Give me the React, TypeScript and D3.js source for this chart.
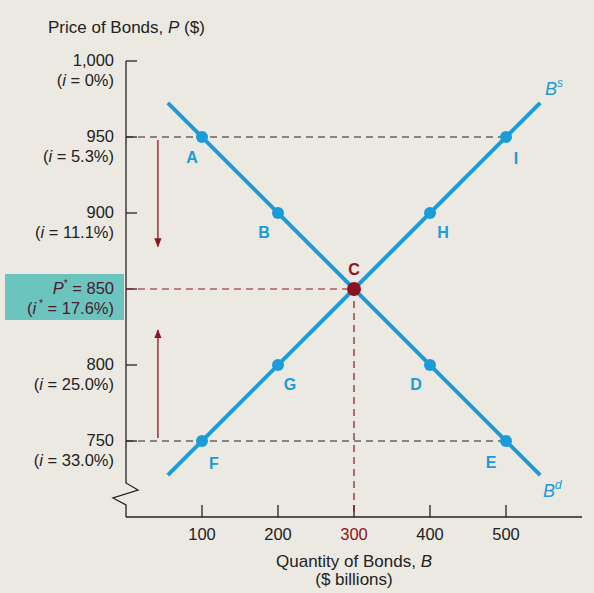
import React from "react";
import * as d3 from "d3";

const quantities = [100, 200, 300, 400, 500];
const priceTicks = [1000, 950, 900, 850, 800, 750];
const priceLabels = ["1,000", "950", "900", "P* = 850", "800", "750"];
const rateLabels = ["0%", "5.3%", "11.1%", "17.6%", "25.0%", "33.0%"];

const demandPoints = [
  { name: "A", q: 100, p: 950 },
  { name: "B", q: 200, p: 900 },
  { name: "C", q: 300, p: 850 },
  { name: "D", q: 400, p: 800 },
  { name: "E", q: 500, p: 750 },
];
const supplyPoints = [
  { name: "F", q: 100, p: 750 },
  { name: "G", q: 200, p: 800 },
  { name: "H", q: 400, p: 900 },
  { name: "I", q: 500, p: 950 },
];
const demandLine = [
  { q: 55, p: 972.5 },
  { q: 545, p: 727.5 },
];
const supplyLine = [
  { q: 55, p: 727.5 },
  { q: 545, p: 972.5 },
];
const arrows = [
  { q: 42, from: 948, to: 878 },
  { q: 42, from: 752, to: 823 },
];

const labelOffsets: Record<string, [number, number]> = {
  A: [-10, 26],
  B: [-14, 25],
  C: [0, -14],
  D: [-14, 25],
  E: [-15, 27],
  F: [12, 28],
  G: [12, 25],
  H: [13, 25],
  I: [10, 27],
};

const BLUE = "#1b9bd7";
const RED = "#8c1420";
const FONT = "'Liberation Sans', Arial, Helvetica, sans-serif";
const TICKFS = 16.5;

export default function App() {
  const x = d3.scaleLinear().domain([0, 600]).range([126, 582]);
  const y = d3.scaleLinear().domain([700, 1000]).range([517, 61]);
  const line = d3
    .line<{ q: number; p: number }>()
    .x((d) => x(d.q))
    .y((d) => y(d.p));

  const allPoints = [...demandPoints, ...supplyPoints];

  return (
    <svg
      width={594}
      height={593}
      style={{ position: "absolute", left: 0, top: 0, background: "#ece9e2" }}
      fontFamily={FONT}
    >
      <defs>
        <marker
          id="arr"
          viewBox="0 0 10 10"
          refX="9"
          refY="5"
          markerWidth="7"
          markerHeight="7"
          orient="auto"
        >
          <path d="M0,1 L10,5 L0,9 z" fill={RED} />
        </marker>
      </defs>
      <rect x={0} y={0} width={594} height={593} fill="#ece9e2" />

      {/* axis title */}
      <text x={48} y={33} fontSize={17} fill="#222">
        Price of Bonds, <tspan fontStyle="italic">P</tspan> ($)
      </text>

      {/* teal box */}
      <rect x={5} y={274} width={119} height={46} fill="#6cc4bf" />

      {/* y axis with break */}
      <path
        d={`M${x(0)},${y(1000)} L${x(0)},483 L138,490 L113,498 L${x(0)},505 L${x(0)},${y(700)}`}
        fill="none"
        stroke="#222"
        strokeWidth={1.3}
      />
      {priceTicks.map((p) => (
        <line key={"t" + p} x1={x(0)} x2={x(0) + 11} y1={y(p)} y2={y(p)} stroke="#222" strokeWidth={1.3} />
      ))}
      {/* x axis */}
      <line x1={x(0)} x2={x(600)} y1={y(700)} y2={y(700)} stroke="#222" strokeWidth={1.3} />
      {quantities.map((q) => (
        <g key={q}>
          <line x1={x(q)} x2={x(q)} y1={y(700)} y2={y(700) - 12} stroke="#222" strokeWidth={1.3} />
          <text
            x={x(q)}
            y={y(700) + 23}
            fontSize={TICKFS}
            textAnchor="middle"
            fill={q === 300 ? RED : "#222"}
          >
            {q}
          </text>
        </g>
      ))}

      {/* y tick labels */}
      {priceTicks.map((p, i) => {
        const star = p === 850;
        const col = star ? "#4a1a2c" : "#222";
        return (
          <g key={p}>
            <text x={114} y={y(p) + 5} fontSize={TICKFS} textAnchor="end" fill={col}>
              {star ? (
                <>
                  <tspan fontStyle="italic">P</tspan>
                  <tspan dy={-7} fontSize={10}>*</tspan>
                  <tspan dy={7}> = 850</tspan>
                </>
              ) : (
                priceLabels[i]
              )}
            </text>
            <text x={114} y={y(p) + 25} fontSize={TICKFS} textAnchor="end" fill={col}>
              (<tspan fontStyle="italic">i</tspan>
              {star ? (
                <>
                  <tspan dy={-7} fontSize={10}> *</tspan>
                  <tspan dy={7}> = {rateLabels[i]})</tspan>
                </>
              ) : (
                <> = {rateLabels[i]})</>
              )}
            </text>
          </g>
        );
      })}

      {/* dashed guides */}
      <line x1={x(0)} x2={x(500)} y1={y(950)} y2={y(950)} stroke="#222" strokeWidth={1.2} strokeDasharray="7,5" />
      <line x1={x(0)} x2={x(500)} y1={y(750)} y2={y(750)} stroke="#222" strokeWidth={1.2} strokeDasharray="7,5" />
      <line x1={x(0)} x2={x(300)} y1={y(850)} y2={y(850)} stroke={RED} strokeWidth={1.2} strokeDasharray="7,5" />
      <line x1={x(300)} x2={x(300)} y1={y(850)} y2={y(700)} stroke={RED} strokeWidth={1.2} strokeDasharray="7,5" />

      {/* arrows */}
      {arrows.map((a, i) => (
        <line
          key={i}
          x1={x(a.q)}
          x2={x(a.q)}
          y1={y(a.from)}
          y2={y(a.to)}
          stroke={RED}
          strokeWidth={1.3}
          markerEnd="url(#arr)"
        />
      ))}

      {/* curves */}
      <path d={line(demandLine) || ""} fill="none" stroke={BLUE} strokeWidth={4} />
      <path d={line(supplyLine) || ""} fill="none" stroke={BLUE} strokeWidth={4} />

      {/* points */}
      {allPoints.map((d) => (
        <circle
          key={d.name}
          cx={x(d.q)}
          cy={y(d.p)}
          r={d.name === "C" ? 7 : 6}
          fill={d.name === "C" ? RED : BLUE}
        />
      ))}
      {allPoints.map((d) => {
        const [dx, dy] = labelOffsets[d.name];
        return (
          <text
            key={"l" + d.name}
            x={x(d.q) + dx}
            y={y(d.p) + dy}
            fontSize={16}
            textAnchor="middle"
            fill={d.name === "C" ? RED : BLUE}
            fontWeight="bold"
          >
            {d.name}
          </text>
        );
      })}

      {/* curve labels */}
      <text x={545} y={95} fontSize={18} fill={BLUE} fontStyle="italic">
        B<tspan dy={-8} fontSize={12}>s</tspan>
      </text>
      <text x={543} y={497} fontSize={18} fill={BLUE} fontStyle="italic">
        B<tspan dy={-8} fontSize={12}>d</tspan>
      </text>

      {/* x axis title */}
      <text x={354} y={567} fontSize={17} textAnchor="middle" fill="#222">
        Quantity of Bonds, <tspan fontStyle="italic">B</tspan>
      </text>
      <text x={354} y={585} fontSize={17} textAnchor="middle" fill="#222">
        ($ billions)
      </text>
    </svg>
  );
}
